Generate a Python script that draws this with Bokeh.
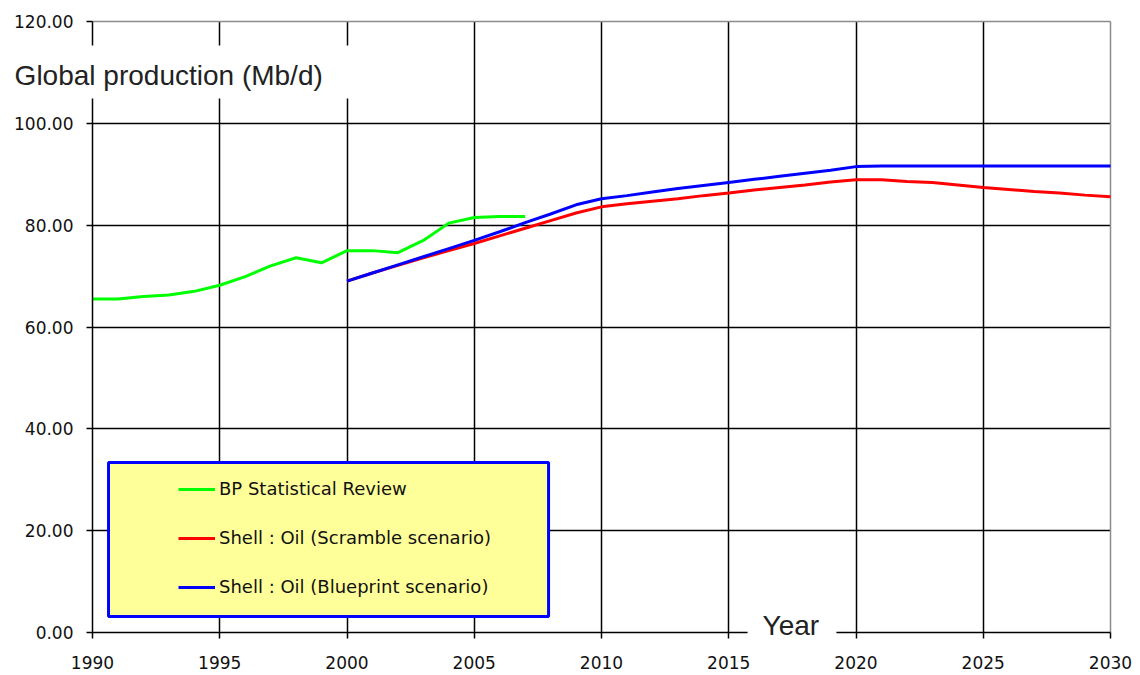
from bokeh.plotting import figure
from bokeh.models import (FixedTicker, NumeralTickFormatter, Legend, LegendItem,
                          BoxAnnotation, Label, Range1d, Grid)
from bokeh.embed import file_html
from bokeh.resources import INLINE

# ---- data ----
years_bp = list(range(1990, 2008))
bp_review = [65.5, 65.5, 66.0, 66.3, 67.0, 68.2, 69.9, 72.0, 73.6, 72.6,
             75.0, 75.0, 74.6, 77.0, 80.4, 81.5, 81.7, 81.7]

years_shell = list(range(2000, 2031))
scramble = [69.0, 70.6, 72.1, 73.6, 75.0, 76.4, 77.9, 79.4, 80.9, 82.4,
            83.6, 84.2, 84.7, 85.2, 85.8, 86.3, 86.9, 87.4, 87.9, 88.5,
            88.9, 88.9, 88.6, 88.4, 87.9, 87.4, 87.0, 86.6, 86.3, 85.9, 85.6]
blueprint = [69.0, 70.6, 72.2, 73.8, 75.4, 77.0, 78.7, 80.5, 82.2, 84.0,
             85.2, 85.8, 86.5, 87.2, 87.8, 88.4, 89.0, 89.6, 90.2, 90.8,
             91.5, 91.6, 91.6, 91.6, 91.6, 91.6, 91.6, 91.6, 91.6, 91.6, 91.6]

series_labels = ["BP Statistical Review",
                 "Shell : Oil (Scramble scenario)",
                 "Shell : Oil (Blueprint scenario)"]
x_ticks = [1990, 1995, 2000, 2005, 2010, 2015, 2020, 2025, 2030]
y_ticks = [0, 20, 40, 60, 80, 100, 120]
y_title = "Global production (Mb/d)"
x_title = "Year"

# ---- layout: the frame fills the canvas, axes are pinned at 1990 / 0 ----
W, H = 1140, 675
PX_L, PX_R, PX_T, PX_B = 92, 1110, 21, 632
xmin, xmax = x_ticks[0], x_ticks[-1]
ymin, ymax = y_ticks[0], y_ticks[-1]
xs = (xmax - xmin) / (PX_R - PX_L)
ys = (ymax - ymin) / (PX_B - PX_T)
x_range = Range1d(xmin - PX_L * xs, xmax + (W - PX_R) * xs)
y_range = Range1d(ymin - (H - PX_B) * ys, ymax + PX_T * ys)

p = figure(width=W, height=H, x_range=x_range, y_range=y_range,
           output_backend="svg", toolbar_location=None,
           min_border_left=0, min_border_right=0, min_border_top=0, min_border_bottom=0)
p.background_fill_color = "white"
p.border_fill_color = "white"
p.outline_line_color = None

# grids (black inner lines, grey top/right border)
p.xgrid.ticker = FixedTicker(ticks=x_ticks[1:-1])
p.ygrid.ticker = FixedTicker(ticks=y_ticks[1:-1])
p.xgrid.cross_bounds = (ymin, ymax)
p.ygrid.cross_bounds = (xmin, xmax)
for g in (p.xgrid, p.ygrid):
    g.grid_line_color = "black"
    g.grid_line_width = 1.5
p.add_layout(Grid(dimension=0, ticker=FixedTicker(ticks=[xmax]), cross_bounds=(ymin, ymax),
                  grid_line_color="#8c8c8c", grid_line_width=1.5))
p.add_layout(Grid(dimension=1, ticker=FixedTicker(ticks=[ymax]), cross_bounds=(xmin, xmax),
                  grid_line_color="#8c8c8c", grid_line_width=1.5))

# axes
p.xaxis.fixed_location = ymin
p.yaxis.fixed_location = xmin
p.xaxis.bounds = (xmin, xmax)
p.yaxis.bounds = (ymin, ymax)
p.xaxis.ticker = FixedTicker(ticks=x_ticks)
p.yaxis.ticker = FixedTicker(ticks=y_ticks)
p.xaxis.formatter = NumeralTickFormatter(format="0")
p.yaxis.formatter = NumeralTickFormatter(format="0.00")
for ax in (p.xaxis, p.yaxis):
    ax.axis_line_color = "black"
    ax.axis_line_width = 1.5
    ax.major_tick_line_color = "black"
    ax.major_tick_line_width = 1.5
    ax.major_tick_out = 6
    ax.major_tick_in = 0
    ax.minor_tick_line_color = None
    ax.major_label_text_font = "DejaVu Sans"
    ax.major_label_text_font_size = "17px"
    ax.major_label_text_color = "#111111"
p.xaxis.major_label_standoff = 17
p.yaxis.major_label_standoff = 13

# series
r_bp = p.line(years_bp, bp_review, line_color="#00FF00", line_width=3)
r_sc = p.line(years_shell, scramble, line_color="#FF0000", line_width=3)
r_bl = p.line(years_shell, blueprint, line_color="#0000FF", line_width=3)

# white boxes behind the axis titles
p.add_layout(BoxAnnotation(left=1985.0, right=2000.35, bottom=104.9, top=115.3,
                           fill_color="white", fill_alpha=1, line_color=None))
p.add_layout(BoxAnnotation(left=2015.74, right=2019.23, bottom=-2.55, top=5.3,
                           fill_color="white", fill_alpha=1, line_color=None))
p.add_layout(Label(x=1986.94, y=109.4, text=y_title, text_font="Liberation Sans",
                   text_font_size="28px", text_color="#222222", text_baseline="alphabetic"))
p.add_layout(Label(x=2016.33, y=1.4, text=x_title, text_font="Liberation Sans",
                   text_font_size="28px", text_color="#222222", text_baseline="alphabetic"))

# legend box + legend
p.add_layout(BoxAnnotation(left=1990.63, right=2007.92, bottom=3.14, top=33.39,
                           fill_color="#FFFF99", fill_alpha=1,
                           line_color="#0000FF", line_alpha=1, line_width=3))
legend = Legend(items=[LegendItem(label=series_labels[0], renderers=[r_bp]),
                       LegendItem(label=series_labels[1], renderers=[r_sc]),
                       LegendItem(label=series_labels[2], renderers=[r_bl])],
                location=(178, H - 597), padding=0, margin=0, spacing=28,
                glyph_width=37, glyph_height=20, label_height=20, label_standoff=4,
                background_fill_alpha=0, border_line_color=None,
                label_text_font="DejaVu Sans", label_text_font_size="18px",
                label_text_color="#111111")
p.add_layout(legend)

open("out.html", "w").write(file_html(p, INLINE))
